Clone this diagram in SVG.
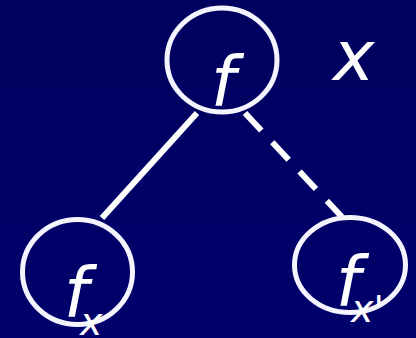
<svg xmlns="http://www.w3.org/2000/svg" width="416" height="338" viewBox="0 0 416 338">
<defs>
<linearGradient id="bg" x1="0" y1="0" x2="0" y2="1">
<stop offset="0" stop-color="#00005e"/>
<stop offset="1" stop-color="#00006c"/>
</linearGradient>
<style>
.node{fill:none;stroke:#f4f4ff;stroke-width:5}
.lbl{fill:#ffffff;font-family:"DejaVu Sans",Verdana,sans-serif;font-style:italic}
.edge{stroke:#ffffff;stroke-width:6;fill:none}
</style>
</defs>
<rect width="416" height="338" fill="url(#bg)"/>
<g id="connectors">
<line class="edge" x1="197" y1="113" x2="102" y2="218"/>
<line class="edge" x1="245" y1="113" x2="342" y2="217" stroke-dasharray="24 16"/>
</g>
<g id="node-f">
<ellipse class="node" cx="222" cy="60" rx="55" ry="52"/>
<text class="lbl" x="223" y="106" font-size="70" text-anchor="middle">f</text>
</g>
<g id="node-fx">
<ellipse class="node" cx="77.500" cy="272" rx="55" ry="52.500"/>
<text class="lbl" x="76" y="317" font-size="70" text-anchor="middle">f</text>
<text class="lbl" x="80" y="335" font-size="38">x</text>
</g>
<g id="node-fx2">
<ellipse class="node" cx="350" cy="265" rx="55.500" ry="47.500"/>
<text class="lbl" x="348" y="306" font-size="70" text-anchor="middle">f</text>
<text class="lbl" x="351" y="322" font-size="38">x'</text>
</g>
<text class="lbl" x="333" y="80" font-size="70">x</text>
</svg>
